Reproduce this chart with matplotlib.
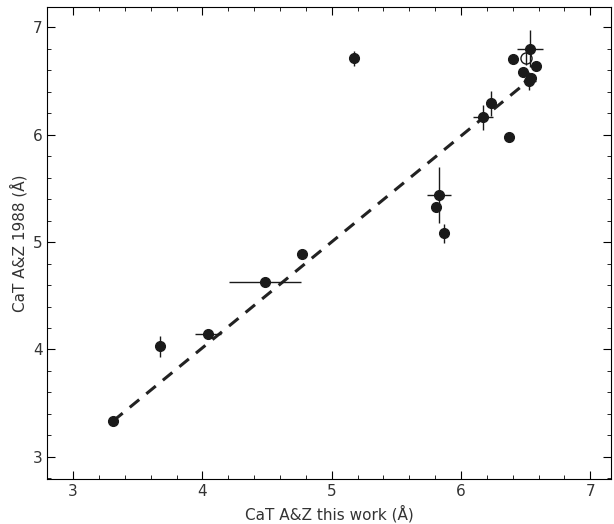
import matplotlib
matplotlib.use('Agg')
import matplotlib.pyplot as plt
from matplotlib.ticker import MultipleLocator

x_this = [3.31, 3.67, 4.045, 4.485, 4.77, 5.17, 5.81, 5.83, 5.87, 6.17, 6.23, 6.37, 6.40, 6.48, 6.535, 6.54, 6.53, 6.58]
y_az = [3.335, 4.03, 4.14, 4.63, 4.89, 6.71, 5.33, 5.44, 5.08, 6.16, 6.29, 5.98, 6.70, 6.58, 6.80, 6.53, 6.50, 6.64]
x_err = [0.02, 0.02, 0.1, 0.28, 0.04, 0.02, 0.02, 0.09, 0.02, 0.08, 0.02, 0.02, 0.03, 0.02, 0.1, 0.03, 0.05, 0.03]
y_err = [0.02, 0.1, 0.04, 0.02, 0.03, 0.07, 0.04, 0.26, 0.09, 0.12, 0.12, 0.03, 0.03, 0.04, 0.17, 0.04, 0.08, 0.04]

open_x = [6.50]
open_y = [6.71]
open_yerr = [0.06]

fit_x = [3.31, 6.54]
fit_y = [3.335, 6.52]

fig, ax = plt.subplots(figsize=(6.14, 5.24), dpi=100)
fig.subplots_adjust(left=0.077, right=0.995, bottom=0.085, top=0.987)

ax.plot(fit_x, fit_y, '--', color='#222222', lw=2.2, dashes=(4, 3))
ax.errorbar(x_this, y_az, xerr=x_err, yerr=y_err, fmt='o', color='#1a1a1a',
            ms=7, elinewidth=1, capsize=0)
ax.errorbar(open_x, open_y, yerr=open_yerr, fmt='o', mfc='none', mec='#1a1a1a',
            color='#1a1a1a', ms=8, elinewidth=1, capsize=0)

ax.set_xlim(2.8, 7.16)
ax.set_ylim(2.79, 7.19)
ax.xaxis.set_major_locator(MultipleLocator(1))
ax.yaxis.set_major_locator(MultipleLocator(1))
ax.xaxis.set_minor_locator(MultipleLocator(0.2))
ax.yaxis.set_minor_locator(MultipleLocator(0.2))
ax.tick_params(which='both', direction='in', top=True, right=True, labelsize=11,
               labelcolor='#333333')
ax.tick_params(which='major', length=6)
ax.tick_params(which='minor', length=3)
ax.set_xlabel('CaT A&Z this work (Å)', fontsize=11, color='#333333')
ax.set_ylabel('CaT A&Z 1988 (Å)', fontsize=11, color='#333333')

fig.savefig('out.png')
